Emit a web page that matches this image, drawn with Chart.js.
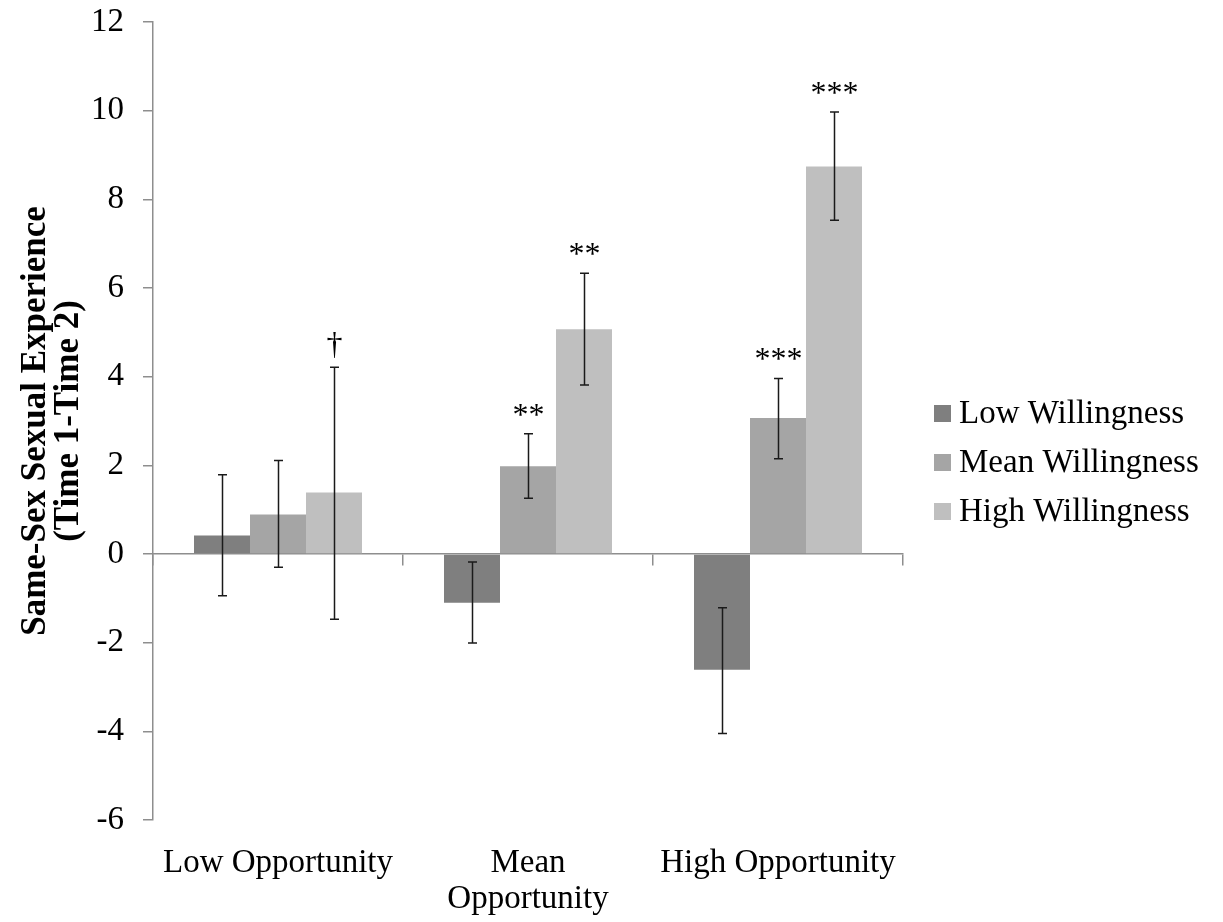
<!DOCTYPE html>
<html>
<head>
<meta charset="utf-8">
<script src="https://cdn.jsdelivr.net/npm/chart.js@4"></script>
<style>
html,body{margin:0;padding:0;background:#fff;}
#wrap{width:1223px;height:922px;position:relative;}
</style>
</head>
<body>
<div id="wrap"><canvas id="c" width="1223" height="922"></canvas></div>
<script>
// ---- data ----
const categories = ['Low Opportunity', ['Mean', 'Opportunity'], 'High Opportunity'];
const seriesNames = ['Low Willingness', 'Mean Willingness', 'High Willingness'];
const lowWill = [0.42, -1.10, -2.61];
const meanWill = [0.89, 1.98, 3.07];
const highWill = [1.39, 5.07, 8.74];
const lowErrTop = [1.79, -0.18, -1.21];
const lowErrBottom = [-0.94, -2.01, -4.05];
const meanErrTop = [2.11, 2.71, 3.96];
const meanErrBottom = [-0.30, 1.26, 2.15];
const highErrTop = [4.21, 6.33, 9.97];
const highErrBottom = [-1.47, 3.81, 7.53];
const lowSig = ['', '', ''];
const meanSig = ['', '**', '***'];
const highSig = ['\u2020', '**', '***'];
const yTicks = [-6, -4, -2, 0, 2, 4, 6, 8, 10, 12];

const colors = ['#7f7f7f', '#a5a5a5', '#bfbfbf'];
const axisColor = '#8e8e8e';
const serif = "'Liberation Serif', 'Times New Roman', serif";

const datasets = [
  {label: seriesNames[0], data: lowWill, backgroundColor: colors[0], errTop: lowErrTop, errBottom: lowErrBottom, sig: lowSig},
  {label: seriesNames[1], data: meanWill, backgroundColor: colors[1], errTop: meanErrTop, errBottom: meanErrBottom, sig: meanSig},
  {label: seriesNames[2], data: highWill, backgroundColor: colors[2], errTop: highErrTop, errBottom: highErrBottom, sig: highSig}
].map(d => Object.assign(d, {xAxisID: 'x', yAxisID: 'y', barPercentage: 1.0, categoryPercentage: 0.672, borderWidth: 0}));

const errorBarPlugin = {
  id: 'errorBars',
  afterDatasetsDraw(chart) {
    const ctx = chart.ctx;
    const y = chart.scales.y;
    ctx.save();
    chart.data.datasets.forEach((ds, di) => {
      const meta = chart.getDatasetMeta(di);
      meta.data.forEach((bar, i) => {
        const x = Math.round(bar.x) + 0.5;
        const yt = y.getPixelForValue(ds.errTop[i]);
        const yb = y.getPixelForValue(ds.errBottom[i]);
        ctx.strokeStyle = '#1a1a1a';
        ctx.lineWidth = 1.5;
        ctx.beginPath();
        ctx.moveTo(x, yt); ctx.lineTo(x, yb);
        ctx.moveTo(x - 4.5, yt); ctx.lineTo(x + 4.5, yt);
        ctx.moveTo(x - 4.5, yb); ctx.lineTo(x + 4.5, yb);
        ctx.stroke();
        const s = ds.sig[i];
        if (s) {
          ctx.fillStyle = '#000';
          ctx.font = '32px ' + serif;
          ctx.textAlign = 'center';
          ctx.textBaseline = 'alphabetic';
          const off = s === '\u2020' ? 13 : 9;
          ctx.fillText(s, x, yt - off);
        }
      });
    });
    ctx.restore();
  }
};

const legendPlugin = {
  id: 'sideLegend',
  afterDraw(chart) {
    const ctx = chart.ctx;
    const ys = [413, 462, 511];
    ctx.save();
    chart.data.datasets.forEach((ds, i) => {
      ctx.fillStyle = ds.backgroundColor;
      ctx.fillRect(934, ys[i] - 8, 17, 17);
      ctx.fillStyle = '#000';
      ctx.font = '33px ' + serif;
      ctx.textAlign = 'left';
      ctx.textBaseline = 'middle';
      ctx.fillText(ds.label, 959, ys[i] + 1);
    });
    ctx.restore();
  }
};

new Chart(document.getElementById('c'), {
  type: 'bar',
  data: {labels: categories, datasets: datasets},
  options: {
    responsive: false,
    animation: false,
    devicePixelRatio: 1,
    layout: {padding: {top: 22, right: 320, left: 0, bottom: 0}},
    plugins: {legend: {display: false}, tooltip: {enabled: false}},
    scales: {
      x: {
        type: 'category',
        position: 'bottom',
        offset: true,
        grid: {display: false, drawTicks: false},
        border: {display: false},
        ticks: {color: '#000', font: {family: serif, size: 33, lineHeight: 1.08}, padding: 26, maxRotation: 0, autoSkip: false},
        afterFit(s) { s.height = 102; s.paddingLeft = 0; s.paddingRight = 0; }
      },
      x2: {
        type: 'category',
        axis: 'x',
        position: {y: 0},
        offset: true,
        grid: {offset: true, drawOnChartArea: false, tickLength: 11, color: axisColor, lineWidth: 1.5},
        border: {color: axisColor, width: 1.5},
        ticks: {display: false},
        afterFit(s) { s.paddingLeft = 0; s.paddingRight = 0; s.paddingTop = 0; s.paddingBottom = 0; }
      },
      y: {
        type: 'linear',
        position: 'left',
        min: -6, max: 12,
        afterBuildTicks(s) { s.ticks = yTicks.map(v => ({value: v})); },
        grid: {drawOnChartArea: false, tickLength: 10, color: axisColor, lineWidth: 1.5},
        border: {color: axisColor, width: 1.5},
        ticks: {color: '#000', font: {family: serif, size: 33}, padding: 19, stepSize: 2},
        title: {display: true, text: ['Same-Sex Sexual Experience', '(Time 1-Time 2)'], color: '#000', font: {family: serif, size: 35, weight: 'bold', lineHeight: 0.95}, padding: {top: 19, bottom: 0}},
        afterFit(s) { s.width = 153; s.paddingTop = 0; s.paddingBottom = 0; }
      }
    }
  },
  plugins: [errorBarPlugin, legendPlugin]
});
</script>
</body>
</html>
